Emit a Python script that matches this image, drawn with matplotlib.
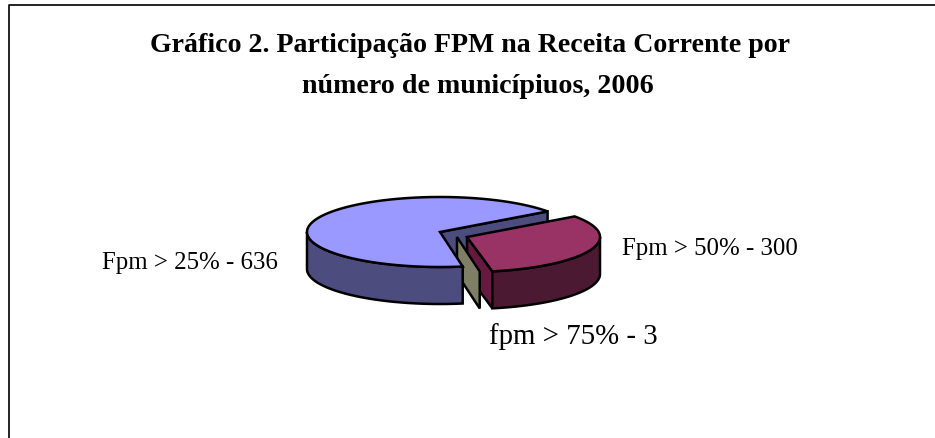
import numpy as np
import matplotlib
matplotlib.use('Agg')
import matplotlib.pyplot as plt
from matplotlib.patches import Polygon

plt.rcParams['font.family'] = ['Liberation Serif', 'DejaVu Serif']

labels = ['Fpm > 25% - 636', 'fpm > 75% - 3', 'Fpm > 50% - 300']
values = [636, 3, 300]
top_colors = ['#9999ff', '#ffffcc', '#993366']
wall_colors = ['#4c4c7f', '#7f7f66', '#4c1933']
cut_colors = ['#4c4c7f', '#7f7f66', '#661a40']

# slices are laid out in pixels of the picture
W, H = 935, 439
rx, ry, depth = 133, 35, 37
start = 36.0
centers = [(440, 233), (457, 238), (467, 238)]

fig = plt.figure(figsize=(W / 100, H / 100), dpi=100)
ax = fig.add_axes([0, 0, 1, 1])
ax.set_xlim(0, W)
ax.set_ylim(H, 0)
ax.axis('off')

# frame runs off the crop at right and bottom
ax.plot([9, 9, W], [H, 5.5, 5.5], color='black', lw=1.2, solid_capstyle='butt')


def rim(c, a0, a1):
    t = np.radians(np.linspace(a0, a1, 200))
    return np.column_stack([c[0] + rx * np.cos(t), c[1] - ry * np.sin(t)])


def face(pts, color, z):
    ax.add_patch(Polygon(pts, closed=True, fc=color, ec='black', lw=1.8, joinstyle='miter', zorder=z))


angles = start + np.cumsum([0] + values) / sum(values) * 360
down = np.array([0, depth])

# big slice cut wall sits behind everything
c = centers[0]
p0 = np.array(c, float)
p1 = rim(c, angles[0], angles[0])[0]
face([p0, p1, p1 + down, p0 + down], cut_colors[0], 1)

# third slice: cut wall, outer wall, top
c = centers[2]
p0 = np.array(c, float)
p1 = rim(c, angles[2], angles[2])[0]
face([p0, p1, p1 + down, p0 + down], cut_colors[2], 2)
r = rim(c, angles[2], 360)
face(np.vstack([r, (r + down)[::-1]]), wall_colors[2], 3)
face(np.vstack([[p0], rim(c, angles[2], angles[3])]), top_colors[2], 4)

# olive sliver, only its cut side shows
c = centers[1]
p0 = np.array(c, float)
p1 = rim(c, angles[1], angles[2])[0]
face([p0, p1, p1 + down, p0 + down], cut_colors[1], 5)

# big slice outer wall and top go over the sliver
c = centers[0]
p0 = np.array(c, float)
r = rim(c, 180, angles[1])
face(np.vstack([r, (r + down)[::-1]]), wall_colors[0], 6)
face(np.vstack([[p0], rim(c, angles[0], angles[1])]), top_colors[0], 7)

ax.text(469.5, 52, 'Gráfico 2. Participação FPM na Receita Corrente por', ha='center', va='baseline',
        fontsize=20.1, fontweight='bold')
ax.text(477.5, 93, 'número de municípiuos, 2006', ha='center', va='baseline', fontsize=20.2, fontweight='bold')

ax.text(189.5, 269, labels[0], ha='center', va='baseline', fontsize=17.9)
ax.text(709.5, 255, labels[2], ha='center', va='baseline', fontsize=17.9)
ax.text(573.5, 344, labels[1], ha='center', va='baseline', fontsize=20.8)

fig.savefig('out.png', dpi=100)
